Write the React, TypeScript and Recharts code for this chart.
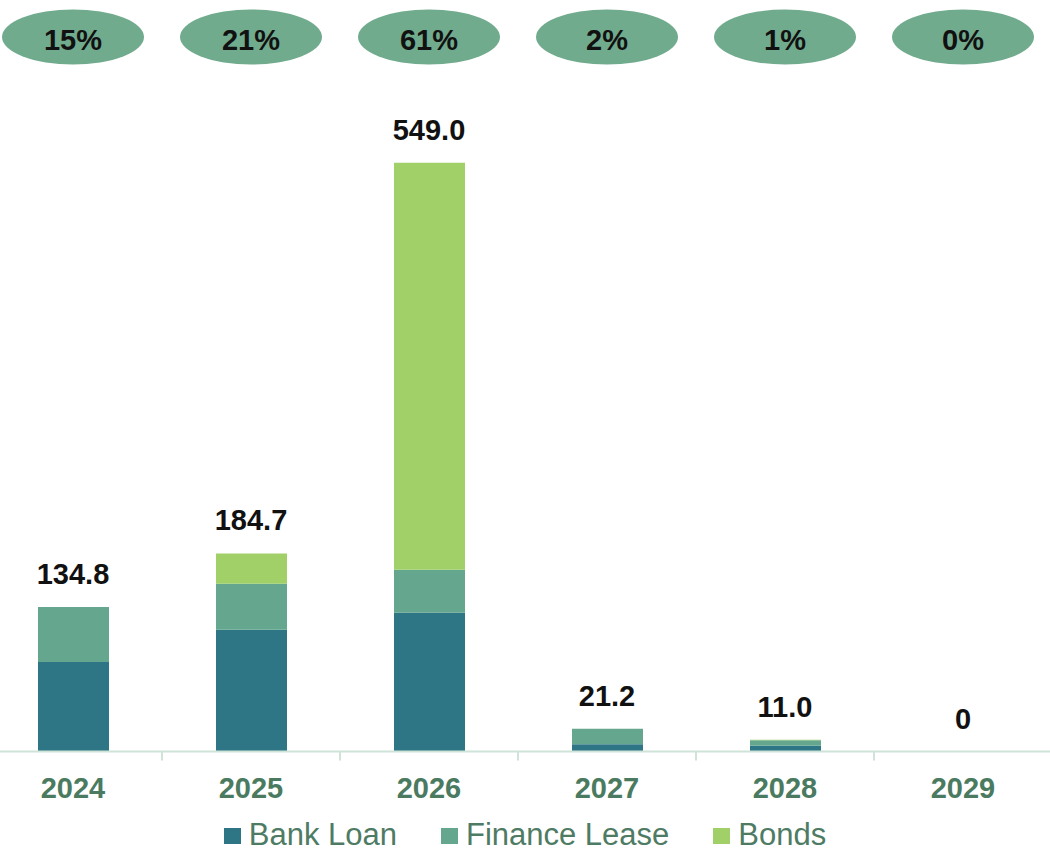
import React from "react"
import { ComposedChart, Bar, Line, XAxis, YAxis, Legend, LabelList } from "recharts"

const years = ["2024", "2025", "2026", "2027", "2028", "2029"]
const bankLoan = [83.4, 113.5, 129.4, 6.8, 5.3, 0]
const financeLease = [51.4, 42.9, 40.0, 14.4, 5.2, 0]
const bonds = [0, 28.3, 379.6, 0, 0.5, 0]
const totalLabels = ["134.8", "184.7", "549.0", "21.2", "11.0", "0"]
const shareLabels = ["15%", "21%", "61%", "2%", "1%", "0%"]

const data = years.map((year, i) => ({
	year,
	bankLoan: bankLoan[i],
	financeLease: financeLease[i],
	bonds: bonds[i],
	total: bankLoan[i] + financeLease[i] + bonds[i],
}))

const FONT = "'Liberation Sans', Arial, sans-serif"
const BANK = "#2E7586"
const LEASE = "#64A78E"
const BONDS = "#A1CF68"
const AXIS_GREEN = "#4A7A60"
const HALF_BAND = 89

const legendItems = [
	{ label: "Bank Loan", color: BANK },
	{ label: "Finance Lease", color: LEASE },
	{ label: "Bonds", color: BONDS },
]

const YearTick = (props: any) => {
	const { x, y, payload, index } = props
	return (
		<g>
			{index > 0 && (
				<line x1={x - HALF_BAND} x2={x - HALF_BAND} y1={y} y2={y + 9} stroke="#CFE3D8" strokeWidth={2} />
			)}
			<text x={x} y={y + 46} textAnchor="middle" fontFamily={FONT} fontSize={29} fontWeight="bold" fill={AXIS_GREEN}>
				{payload.value}
			</text>
		</g>
	)
}

// share bubble at the top + total above each stack
const TopLabels = (props: any) => {
	const { x, y, index } = props
	return (
		<g>
			<ellipse cx={x} cy={37} rx={71} ry={27.5} fill="#71AB8E" />
			<text x={x} y={50} textAnchor="middle" fontFamily={FONT} fontSize={29} fontWeight="bold" fill="#111">
				{shareLabels[index]}
			</text>
			<text x={x} y={y - 23} textAnchor="middle" fontFamily={FONT} fontSize={29} fontWeight="bold" fill="#111">
				{totalLabels[index]}
			</text>
		</g>
	)
}

const CustomLegend = () => (
	<div
		style={{
			display: "flex",
			justifyContent: "center",
			alignItems: "flex-end",
			height: 48,
			paddingBottom: 1,
			boxSizing: "border-box",
			fontFamily: FONT,
			fontSize: 31,
			lineHeight: 1,
			color: "#4E7B63",
		}}
	>
		{legendItems.map((item, i) => (
			<div key={item.label} style={{ display: "flex", alignItems: "center", marginLeft: i === 0 ? 0 : 44 }}>
				<span style={{ display: "inline-block", width: 17, height: 16, background: item.color, marginRight: 8, marginTop: 3 }} />
				<span>{item.label}</span>
			</div>
		))}
	</div>
)

export default function App() {
	return (
		<div style={{ position: "absolute", left: 0, top: 0, width: 1050, height: 851, overflow: "hidden", background: "#fff" }}>
			<div style={{ position: "absolute", left: -16, top: 0 }}>
				<ComposedChart width={1084} height={851} data={data} margin={{ top: 108, right: 16, bottom: 0, left: 0 }}>
					<XAxis
						dataKey="year"
						height={51.5}
						axisLine={{ stroke: "#CFE3D8", strokeWidth: 2 }}
						tickLine={false}
						tickSize={0}
						tickMargin={0}
						interval={0}
						tick={<YearTick />}
					/>
					<YAxis hide domain={[0, 600]} />
					<Legend
						verticalAlign="bottom"
						height={48}
						content={<CustomLegend />}
						wrapperStyle={{ left: 16, width: 1050 }}
					/>
					<Bar dataKey="bankLoan" name="Bank Loan" stackId="a" fill={BANK} barSize={71} isAnimationActive={false} />
					<Bar dataKey="financeLease" name="Finance Lease" stackId="a" fill={LEASE} barSize={71} isAnimationActive={false} />
					<Bar dataKey="bonds" name="Bonds" stackId="a" fill={BONDS} barSize={71} isAnimationActive={false} />
					<Line
						dataKey="total"
						stroke="none"
						dot={false}
						activeDot={false}
						legendType="none"
						isAnimationActive={false}
					>
						<LabelList dataKey="total" content={<TopLabels />} />
					</Line>
				</ComposedChart>
			</div>
		</div>
	)
}
